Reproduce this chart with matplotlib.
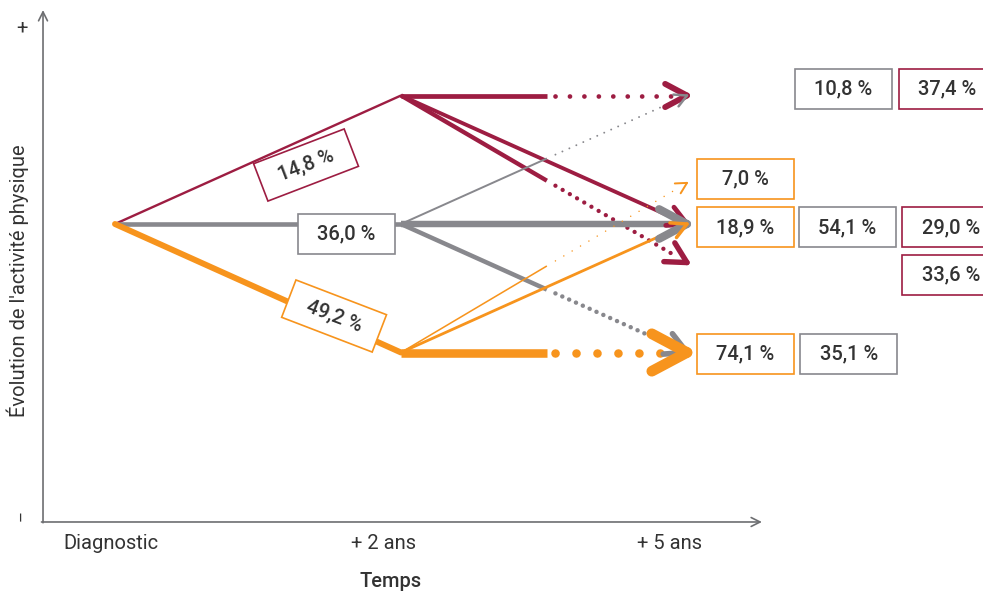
import numpy as np
import matplotlib.pyplot as plt
from matplotlib.patches import Rectangle
from matplotlib.transforms import Affine2D

plt.rcParams['font.family'] = ['Roboto', 'DejaVu Sans']

# --- data -------------------------------------------------------------
stages = ['Diagnostic', '+ 2 ans', '+ 5 ans']
# level of physical activity : 1 = up, 0 = stable, -1 = down
first_to = [1, 0, -1]
first_pct = [14.8, 36.0, 49.2]

maroon_to = [1, 0, -0.3]
maroon_pct = [37.4, 29.0, 33.6]
gray_to = [1, 0, -1]
gray_pct = [10.8, 54.1, 35.1]
orange_to = [0.32, 0, -1]
orange_pct = [7.0, 18.9, 74.1]

# --- style / layout -----------------------------------------------------
MAROON = '#9d1d42'
GRAY = '#88888d'
ORANGE = '#f7941d'
TXT = '#333333'
colors = [MAROON, GRAY, ORANGE]

first_box = [(0.668, 0.459, 21), (0.808, -0.078, 0), (0.766, -0.716, -21)]
end_box = {
    'maroon': [(2.911, 1.051), (2.923, -0.027), (2.923, -0.393)],
    'gray': [(2.547, 1.051), (2.561, -0.027), (2.566, -1.012)],
    'orange': [(2.203, 0.350), (2.203, -0.027), (2.203, -1.012)],
}
# spacing of dots (points) for the dotted part of each flow
dot_space = {
    'maroon': [10.4, 0, 6.0],
    'gray': [5.5, 0, 5.4],
    'orange': [7.0, 0, 15.1],
}
BW, BH = 97, 40  # label box size in pixels
FS = 14.5


def lw_of(p):
    return 0.6 + 0.075 * p


def fmt(p):
    return f'{p:.1f} %'.replace('.', ',')


fig = plt.figure(figsize=(9.83, 5.93), dpi=100)
ax = fig.add_axes([0, 0, 1, 1])
ax.set_xlim(-0.4021, 3.0350)
ax.set_ylim(-2.8716, 1.7432)
ax.axis('off')


def box(x, y, txt, color, angle=0):
    px, py = ax.transData.transform((x, y))
    tr = Affine2D().rotate_deg(angle).translate(px, py)
    r = Rectangle((-BW / 2, -BH / 2), BW, BH, transform=tr, fc='white',
                  ec=color, lw=1.2, zorder=6)
    ax.add_patch(r)
    ax.text(x, y, txt, rotation=angle, rotation_mode='anchor', ha='center',
            va='center', fontsize=FS, fontweight='medium', color=TXT, zorder=7)


def chevron(x0, y0, x1, y1, color, lw, size):
    tip = ax.transData.transform((x1, y1))
    d = tip - ax.transData.transform((x0, y0))
    d = d / np.hypot(*d)
    inv = ax.transData.inverted()
    for a in (28, -28):
        t = np.radians(180 + a)
        rot = np.array([[np.cos(t), -np.sin(t)], [np.sin(t), np.cos(t)]])
        end = tip + size * (rot @ d)
        p = inv.transform([end, tip])
        ax.plot(p[:, 0], p[:, 1], color=color, lw=lw * 1.25,
                solid_capstyle='round', zorder=4)


def flow(x0, y0, x1, y1, color, pct, space):
    lw = lw_of(pct)
    if space:
        xm, ym = x0 + 0.51 * (x1 - x0), y0 + 0.51 * (y1 - y0)
        ax.plot([x0, xm], [y0, ym], color=color, lw=lw,
                solid_capstyle='butt', zorder=3)
        xe, ye = x0 + 0.95 * (x1 - x0), y0 + 0.95 * (y1 - y0)
        gap = space / lw - 0.01
        ax.plot([xm + 0.03 * (x1 - x0), xe], [ym + 0.03 * (y1 - y0), ye],
                color=color, lw=lw, linestyle=(0, (0.01, gap)),
                dash_capstyle='round', zorder=3)
    else:
        ax.plot([x0, x1], [y0, y1], color=color, lw=lw,
                solid_capstyle='butt', zorder=3)
    chevron(x0, y0, x1, y1, color, lw, 6 + 5.5 * lw)


# axes with arrows
AX = '#6d6e71'
ax.annotate('', xy=(-0.2517, 1.665), xytext=(-0.2517, -2.325),
            arrowprops=dict(arrowstyle='->', color=AX, lw=1.2,
                            mutation_scale=16, shrinkA=0, shrinkB=0))
ax.annotate('', xy=(2.262, -2.319), xytext=(-0.257, -2.319),
            arrowprops=dict(arrowstyle='->', color=AX, lw=1.2,
                            mutation_scale=16, shrinkA=0, shrinkB=0))
ax.text(-0.325, 1.525, '+', fontsize=FS, color=TXT, ha='center', va='center')
ax.text(-0.325, -2.272, '–', fontsize=12, color=TXT, ha='center',
        va='center', rotation=90)
ax.text(-0.339, -0.444, "Évolution de l'activité physique", rotation=90,
        fontsize=FS, color=TXT, ha='center', va='center')
for i, s in enumerate(stages):
    ax.text(i - (0.014 if i == 0 else 0.06), -2.49, s, fontsize=FS,
            color=TXT, ha='center', va='center')
ax.text(0.965, -2.782, 'Temps', fontsize=FS, fontweight='medium', color=TXT,
        ha='center', va='center')

# stage 1 : diagnostic -> + 2 ans
for to, p, c in zip(first_to, first_pct, colors):
    ax.plot([0, 1], [0, to], color=c, lw=lw_of(p), solid_capstyle='round',
            zorder=3)
for (bx, by, ang), p, c in zip(first_box, first_pct, colors):
    box(bx, by, fmt(p), c, ang)

# stage 2 : + 2 ans -> + 5 ans
groups = [('maroon', 1, maroon_to, maroon_pct, MAROON),
          ('gray', 0, gray_to, gray_pct, GRAY),
          ('orange', -1, orange_to, orange_pct, ORANGE)]
for name, start, tos, pcts, c in groups:
    for to, p, sp in zip(tos, pcts, dot_space[name]):
        flow(1, start, 2, to, c, p, sp)
    for (bx, by), p in zip(end_box[name], pcts):
        box(bx, by, fmt(p), c)

fig.savefig('out.png', dpi=100)
